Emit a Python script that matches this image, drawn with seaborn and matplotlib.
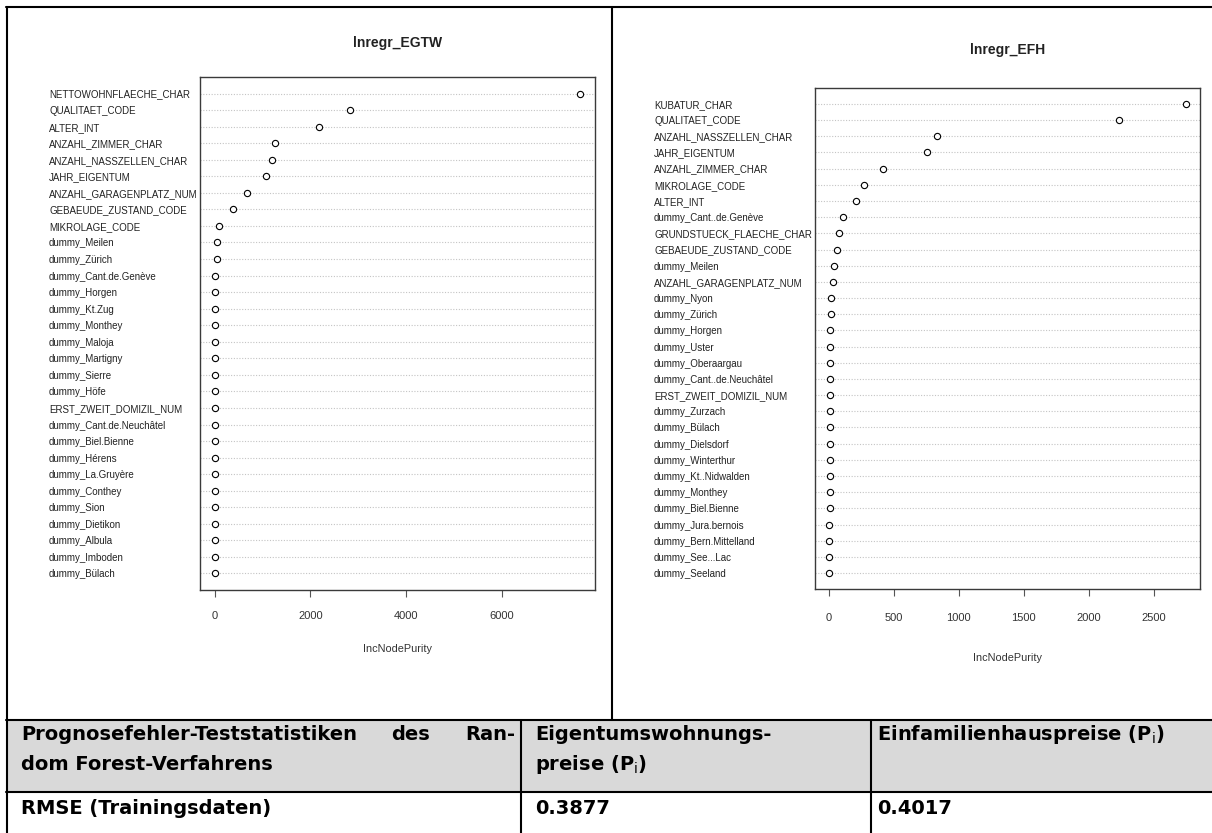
import matplotlib
matplotlib.use("Agg")
import matplotlib.pyplot as plt
from matplotlib.ticker import MultipleLocator
import seaborn as sns

# variable importance of the two random forests (IncNodePurity)
egtw_features = [
    "NETTOWOHNFLAECHE_CHAR", "QUALITAET_CODE", "ALTER_INT", "ANZAHL_ZIMMER_CHAR",
    "ANZAHL_NASSZELLEN_CHAR", "JAHR_EIGENTUM", "ANZAHL_GARAGENPLATZ_NUM",
    "GEBAEUDE_ZUSTAND_CODE", "MIKROLAGE_CODE", "dummy_Meilen", "dummy_Zürich",
    "dummy_Cant.de.Genève", "dummy_Horgen", "dummy_Kt.Zug", "dummy_Monthey",
    "dummy_Maloja", "dummy_Martigny", "dummy_Sierre", "dummy_Höfe",
    "ERST_ZWEIT_DOMIZIL_NUM", "dummy_Cant.de.Neuchâtel", "dummy_Biel.Bienne",
    "dummy_Hérens", "dummy_La.Gruyère", "dummy_Conthey", "dummy_Sion",
    "dummy_Dietikon", "dummy_Albula", "dummy_Imboden", "dummy_Bülach",
]
egtw_purity = [7635, 2837, 2173, 1256, 1208, 1070, 681, 381, 97, 57, 55,
               20, 14, 12, 11, 10, 9, 8, 8, 7, 7, 6, 6, 5, 5, 4, 4, 3, 3, 2]

efh_features = [
    "KUBATUR_CHAR", "QUALITAET_CODE", "ANZAHL_NASSZELLEN_CHAR", "JAHR_EIGENTUM",
    "ANZAHL_ZIMMER_CHAR", "MIKROLAGE_CODE", "ALTER_INT", "dummy_Cant..de.Genève",
    "GRUNDSTUECK_FLAECHE_CHAR", "GEBAEUDE_ZUSTAND_CODE", "dummy_Meilen",
    "ANZAHL_GARAGENPLATZ_NUM", "dummy_Nyon", "dummy_Zürich", "dummy_Horgen",
    "dummy_Uster", "dummy_Oberaargau", "dummy_Cant..de.Neuchâtel",
    "ERST_ZWEIT_DOMIZIL_NUM", "dummy_Zurzach", "dummy_Bülach", "dummy_Dielsdorf",
    "dummy_Winterthur", "dummy_Kt..Nidwalden", "dummy_Monthey", "dummy_Biel.Bienne",
    "dummy_Jura.bernois", "dummy_Bern.Mittelland", "dummy_See...Lac", "dummy_Seeland",
]
efh_purity = [2746, 2229, 834, 759, 414, 270, 207, 108, 78, 60, 37, 35, 20, 16,
              13, 12, 11, 10, 9, 9, 8, 8, 7, 7, 6, 6, 5, 5, 4, 4]

# table under the plots
row_label = "RMSE (Trainingsdaten)"
rmse_egtw = "0.3877"
rmse_efh = "0.4017"

sns.set_style("white")
narrow = ["Liberation Sans Narrow", "Liberation Sans", "DejaVu Sans"]
plt.rcParams["font.family"] = narrow
plt.rcParams["mathtext.fontset"] = "dejavusans"

W, H = 1212, 833
fig = plt.figure(figsize=(W / 100, H / 100), dpi=100)

# overlay for the frame lines and the table (pixel coordinates)
bg = fig.add_axes([0, 0, 1, 1])
bg.set_xlim(0, W)
bg.set_ylim(H, 0)
bg.axis("off")
bg.patch.set_alpha(0)

lw = 1.5
bg.fill_between([6, W], 720, 792, color="#d9d9d9", lw=0)
bg.plot([6, W], [7, 7], color="black", lw=lw)
bg.plot([6.5, 6.5], [7, H], color="black", lw=lw)
bg.plot([612, 612], [7, 720], color="black", lw=lw)
bg.plot([6, W], [720, 720], color="black", lw=lw)
bg.plot([6, W], [792, 792], color="black", lw=lw)
bg.plot([521, 521], [720, H], color="black", lw=lw)
bg.plot([871, 871], [720, H], color="black", lw=lw)

tab_font = dict(family="DejaVu Sans", weight="bold", size=14, color="black",
                va="center")
t1 = bg.text(21, 734, "Prognosefehler-Teststatistiken", ha="left", **tab_font)
t3 = bg.text(515, 734, "Ran-", ha="right", **tab_font)
bg.text(21, 764, "dom Forest-Verfahrens", ha="left", **tab_font)
bg.text(535, 734, "Eigentumswohnungs-", ha="left", **tab_font)
bg.text(535, 764, r"preise (P$_\mathrm{i}$)", ha="left", **tab_font)
bg.text(877, 734, r"Einfamilienhauspreise (P$_\mathrm{i}$)", ha="left", **tab_font)
bg.text(21, 809, row_label, ha="left", **tab_font)
bg.text(535, 809, rmse_egtw, ha="left", **tab_font)
bg.text(877, 809, rmse_efh, ha="left", **tab_font)


def dot_panel(rect, features, purity, title, step, label_pad, tick_pad, xlab_pad, title_y):
    ax = fig.add_axes(rect)
    sns.stripplot(x=purity, y=features, ax=ax, jitter=False, size=4.5,
                  color="white", edgecolor="black", linewidth=0.8, zorder=3)
    lo, hi = min(purity), max(purity)
    span = hi - lo
    ax.set_ylim(len(features), -1)
    ax.set_axisbelow(True)
    ax.yaxis.grid(True, ls=(0, (1, 1.5)), color="#c4c4c4", lw=0.8)
    ax.xaxis.grid(False)
    ax.xaxis.set_major_locator(MultipleLocator(step))
    ax.set_xlim(lo - 0.04 * span, hi + 0.04 * span)
    for sp in ax.spines.values():
        sp.set_color("#3a3a3a")
        sp.set_linewidth(1)
    ax.tick_params(axis="y", length=0, pad=label_pad, labelsize=7.0, labelcolor="#222222")
    for lab in ax.get_yticklabels():
        lab.set_horizontalalignment("left")
    ax.tick_params(axis="x", bottom=True, length=5, width=0.8, color="#555555",
                   pad=tick_pad, labelsize=8, labelcolor="#333333")
    ax.set_ylabel("")
    ax.set_xlabel("IncNodePurity", fontsize=7.8, color="#333333", labelpad=xlab_pad)
    x0, _, w, _ = rect
    fig.text(x0 + w / 2, 1 - title_y / H, title, ha="center", va="center",
             fontsize=10, fontweight="bold", color="#222222", family=narrow)
    return ax


dot_panel([200 / W, 1 - 590 / H, 395 / W, 513 / H], egtw_features, egtw_purity,
          "lnregr_EGTW", 2000, 108.7, 10, 17, 43)
dot_panel([815 / W, 1 - 589.3 / H, 385 / W, 501.6 / H], efh_features, efh_purity,
          "lnregr_EFH", 500, 115.9, 12, 22, 50)

# justify the first header line: put "des" midway between the outer words
fig.canvas.draw()
r = fig.canvas.get_renderer()
b1 = t1.get_window_extent(r)
b3 = t3.get_window_extent(r)
bg.text((b1.x1 + b3.x0) / 2, 734, "des", ha="center", **tab_font)

fig.savefig("out.png", dpi=100)
